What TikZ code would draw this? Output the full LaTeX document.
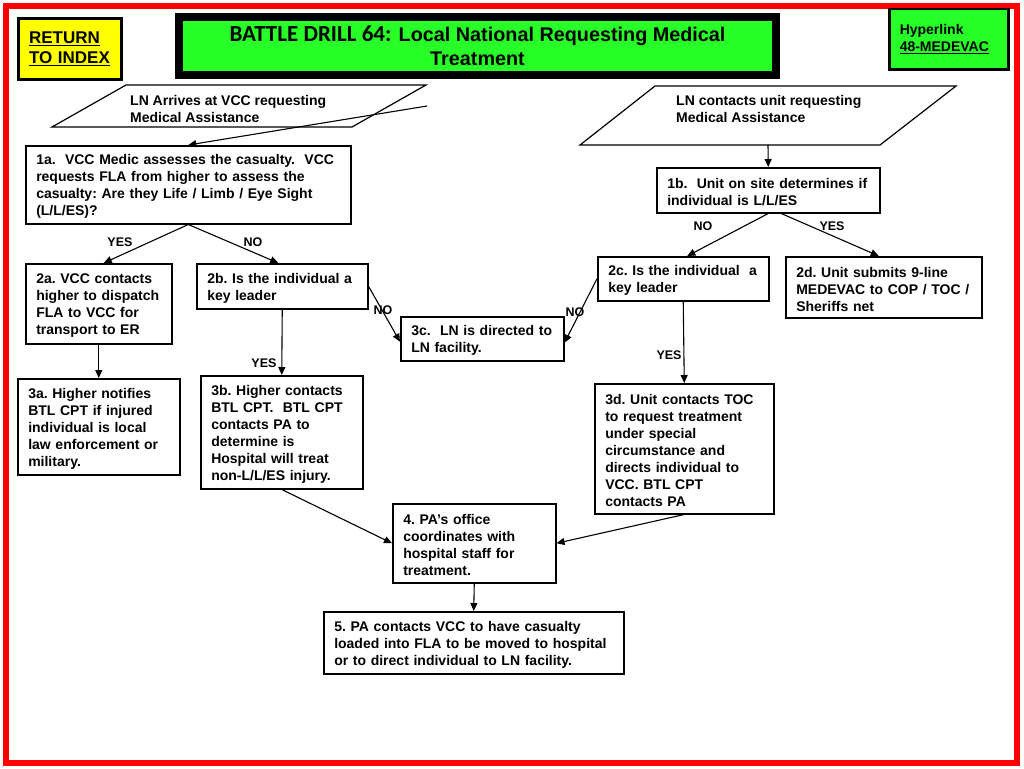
\documentclass[tikz,border=0pt]{standalone}
\usepackage{fontspec}
\setmainfont{Liberation Sans}
\newfontfamily\calfont{Carlito}
\usetikzlibrary{arrows.meta}
\definecolor{drillgreen}{RGB}{40,255,40}
\definecolor{drillred}{RGB}{255,0,0}
\definecolor{drillyellow}{RGB}{255,255,0}
\begin{document}
\begin{tikzpicture}[x=1pt,y=-1pt,
  box/.style={draw, line width=1.5pt, anchor=north west, align=left, inner xsep=10.5pt, inner ysep=0pt,
    font=\fontsize{14}{17}\selectfont\bfseries\frenchspacing, execute at begin node={\rule{0pt}{14pt}}},
  ptext/.style={anchor=north west, align=left, inner sep=0pt, font=\fontsize{14}{17}\selectfont\bfseries},
  arr/.style={line width=1.1pt, -{Triangle[length=8pt,width=7pt]}},
  lbl/.style={font=\fontsize{12.5}{15}\selectfont\bfseries, inner sep=0pt},
  para/.style={draw, line width=1.2pt}]
\useasboundingbox (0,0) rectangle (1024,768);
\fill[white] (0,0) rectangle (1024,768);
\draw[drillred, line width=6pt] (6,6) rectangle (1017,763);

% header boxes
\node[draw, line width=3pt, fill=drillyellow, anchor=north west, align=left, inner xsep=10.5pt, inner ysep=0pt,
  text width=82pt, minimum height=61pt, font=\fontsize{17}{20}\selectfont\bfseries] (ret) at (17,17)
  {\underline{RETURN}\\\underline{TO INDEX}};
\node[draw=black, line width=8.5pt, fill=drillgreen, minimum width=597pt, minimum height=58pt, align=center,
  inner sep=0pt, font=\fontsize{19.8}{24}\selectfont\bfseries] (title) at (477.5,46)
  {{\calfont\fontsize{23}{24}\selectfont BATTLE DRILL 64:} Local National Requesting Medical\\Treatment};
\node[draw, line width=2.5pt, fill=drillgreen, anchor=north west, align=left, inner xsep=10.5pt, inner ysep=0pt,
  text width=98pt, minimum height=60pt, font=\fontsize{14}{17}\selectfont\bfseries] (hyp) at (888,8)
  {Hyperlink\\\underline{48-MEDEVAC}};

% input parallelograms
\draw[para] (126,85) -- (426,85) -- (352,127) -- (52,127) -- cycle;
\node[ptext] (p1) at (130,95) {LN Arrives at VCC requesting\\Medical Assistance};
\coordinate (c1) at (427,106);
\draw[para] (655,86) -- (956,86) -- (880,145) -- (580,145) -- cycle;
\node[ptext] (p2) at (676,95) {LN contacts unit requesting\\Medical Assistance};
\coordinate (c2) at (768,145);

% process boxes
\node[box, text width=304pt, minimum height=78pt] (a1) at (25,145)
  {1a.\ \ VCC Medic assesses the casualty.\ \ VCC\\requests FLA from higher to assess the\\casualty: Are they Life / Limb / Eye Sight\\(L/L/ES)?};
\node[box, text width=202pt, minimum height=45pt] (b1) at (656,167)
  {1b.\ \ Unit on site determines if\\individual is L/L/ES};
\node[box, text width=125pt, minimum height=80pt] (a2) at (25,263)
  {2a. VCC contacts\\higher to dispatch\\FLA to VCC for\\transport to ER};
\node[box, text width=150pt, minimum height=45pt] (b2) at (196,263)
  {2b. Is the individual a\\key leader};
\node[box, text width=150pt, minimum height=44pt] (c2b) at (597,256)
  {2c. Is the individual\ \ a\\key leader};
\node[box, text width=175pt, minimum height=61pt] (d2) at (785,256)
  {2d. Unit submits 9-line\\MEDEVAC to COP / TOC /\\Sheriffs net};
\node[box, text width=141pt, minimum height=96pt] (a3) at (17,378)
  {3a. Higher notifies\\BTL CPT if injured\\individual is local\\law enforcement or\\military.};
\node[box, text width=141pt, minimum height=113pt] (b3) at (200,375)
  {3b. Higher contacts\\BTL CPT.\ \ BTL CPT\\contacts PA to\\determine is\\Hospital will treat\\non-L/L/ES injury.};
\node[box, text width=142pt, minimum height=44pt] (c3) at (400,316)
  {3c.\ \ LN is directed to\\LN facility.};
\node[box, text width=158pt, minimum height=130pt] (d3) at (594,383)
  {3d. Unit contacts TOC\\to request treatment\\under special\\circumstance and\\directs individual to\\VCC. BTL CPT\\contacts PA};
\node[box, text width=142pt, minimum height=79pt] (s4) at (392,503)
  {4. PA’s office\\coordinates with\\hospital staff for\\treatment.};
\node[box, text width=279pt, minimum height=62pt] (s5) at (323,611)
  {5. PA contacts VCC to have casualty\\loaded into FLA to be moved to hospital\\or to direct individual to LN facility.};

% connectors
\draw[arr] (c1) -- (a1.north);
\draw[arr] (c2) -- (b1.north);
\draw[arr] (a1.south) -- ([xshift=5pt]a2.north);
\draw[arr] (a1.south) -- ([xshift=-4pt]b2.north);
\draw[arr] (a2.south) -- (a3.north);
\draw[arr] (b2.south) -- (b3.north);
\draw[arr] (b2.east) -- ([yshift=-3pt]c3.west);
\draw[arr] (b1.south) -- ([xshift=4pt]c2b.north);
\draw[arr] ([xshift=13pt]b1.south) -- ([xshift=-5pt]d2.north);
\draw[arr] (c2b.west) -- ([yshift=-4pt]c3.east);
\draw[arr] (c2b.south) -- (d3.north);
\draw[arr] (b3.south) -- (s4.west);
\draw[arr] (d3.south) -- (s4.east);
\draw[arr] (s4.south) -- (s5.north);

% labels
\node[lbl] (l1) at (120,242) {YES};
\node[lbl] (l2) at (253,242) {NO};
\node[lbl] (l3) at (383,310) {NO};
\node[lbl] (l4) at (264,363) {YES};
\node[lbl] (l5) at (703,226) {NO};
\node[lbl] (l6) at (832,226) {YES};
\node[lbl] (l7) at (575,312) {NO};
\node[lbl] (l8) at (669,355) {YES};
\end{tikzpicture}
\end{document}
